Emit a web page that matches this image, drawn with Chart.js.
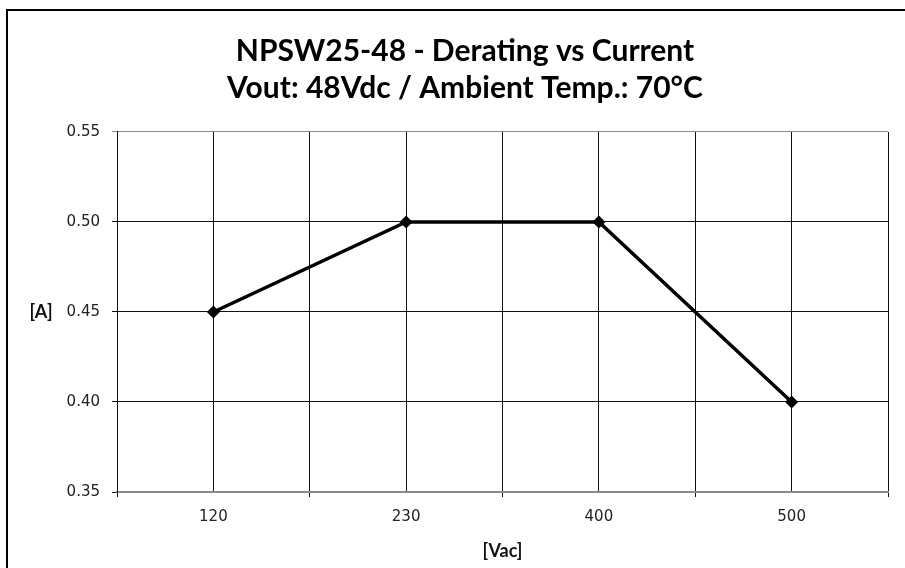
<!DOCTYPE html>
<html lang="en">
<head>
  <meta charset="UTF-8">
  <title>NPSW25-48 - Derating vs Current</title>
  <script src="https://cdn.jsdelivr.net/npm/chart.js"></script>
  <style>
    body {
      margin: 0;
      padding: 0;
      background: #fff;
    }

    .chart-container {
      position: relative;
      width: 905px;
      height: 568px;
    }

    /* Frame round the chart (only left and top edges show) */
    .frame {
      position: absolute;
      left: 6px;
      top: 9px;
      width: 905px;
      height: 568px;
      border-left: 2px solid #000;
      border-top: 2px solid #000;
      pointer-events: none;
    }
  </style>
</head>
<body>
  <div class="chart-container">
    <canvas id="deratingChart" width="905" height="568"></canvas>
    <div class="frame"></div>
  </div>

  <script>
    // Chart data
    const titleLines = ['NPSW25-48 - Derating vs Current', 'Vout: 48Vdc / Ambient Temp.: 70°C'];
    const voltages = ['120', '230', '400', '500'];   // [Vac]
    const currents = [0.45, 0.50, 0.50, 0.40];       // [A]
    const yMin = 0.35;
    const yMax = 0.55;
    const yStep = 0.05;
    const xTitle = '[Vac]';
    const yTitle = '[A]';

    const gridColor = '#111';
    const edgeColor = '#8a8a8a';

    // Draws the y axis title horizontally, left of the tick labels
    const yTitlePlugin = {
      id: 'yTitle',
      afterDraw(chart) {
        const { ctx, chartArea } = chart;
        ctx.save();
        ctx.font = 'bold 18px Lato';
        ctx.fillStyle = '#111';
        ctx.textAlign = 'center';
        ctx.textBaseline = 'middle';
        ctx.fillText(yTitle, 41, (chartArea.top + chartArea.bottom) / 2);
        ctx.restore();
      }
    };

    const ctx = document.getElementById('deratingChart').getContext('2d');
    const chart = new Chart(ctx, {
      type: 'line',
      data: {
        labels: voltages,
        datasets: [{
          data: currents,
          borderColor: '#000',
          backgroundColor: '#000',
          borderWidth: 3.5,
          pointStyle: 'rectRot',
          pointRadius: 6.5,
          pointBorderWidth: 0,
          tension: 0,
          fill: false
        }]
      },
      options: {
        responsive: false,
        animation: false,
        layout: {
          padding: { left: 42, right: 17, top: 0, bottom: 0 }
        },
        plugins: {
          legend: { display: false },
          tooltip: { enabled: false },
          title: {
            display: true,
            text: titleLines,
            color: '#000',
            font: { family: 'Lato', size: 30, weight: 'bold', lineHeight: 1.233 },
            padding: { top: 33, bottom: 25 }
          }
        },
        scales: {
          x: {
            type: 'category',
            offset: true,
            grid: {
              offset: true,
              color: c => (c.index === voltages.length ? edgeColor : gridColor),
              lineWidth: 1,
              tickLength: 5
            },
            border: { color: edgeColor, width: 2 },
            ticks: {
              color: '#222',
              font: { family: 'DejaVu Sans', size: 15 },
              padding: 11
            },
            title: {
              display: true,
              text: xTitle,
              color: '#111',
              font: { family: 'Lato', size: 18, weight: 'bold' },
              padding: { top: 16, bottom: 6 }
            },
            afterFit: scale => { scale.height = 76; }
          },
          // second category axis only for the gridlines through the points
          x2: {
            type: 'category',
            position: 'top',
            offset: true,
            grid: { offset: false, color: gridColor, lineWidth: 1, drawTicks: false },
            border: { display: false },
            ticks: { display: false },
            afterFit: scale => { scale.height = 0; }
          },
          y: {
            min: yMin,
            max: yMax,
            grid: {
              color: c => (c.tick && c.tick.value >= yMax - 1e-9 ? edgeColor : gridColor),
              lineWidth: 1,
              tickLength: 5
            },
            border: { color: gridColor, width: 1 },
            ticks: {
              stepSize: yStep,
              color: '#222',
              font: { family: 'DejaVu Sans', size: 15 },
              padding: 12,
              callback: v => v.toFixed(2)
            },
            afterFit: scale => { scale.width = 75; }
          }
        }
      },
      plugins: [yTitlePlugin]
    });
  </script>
</body>
</html>
